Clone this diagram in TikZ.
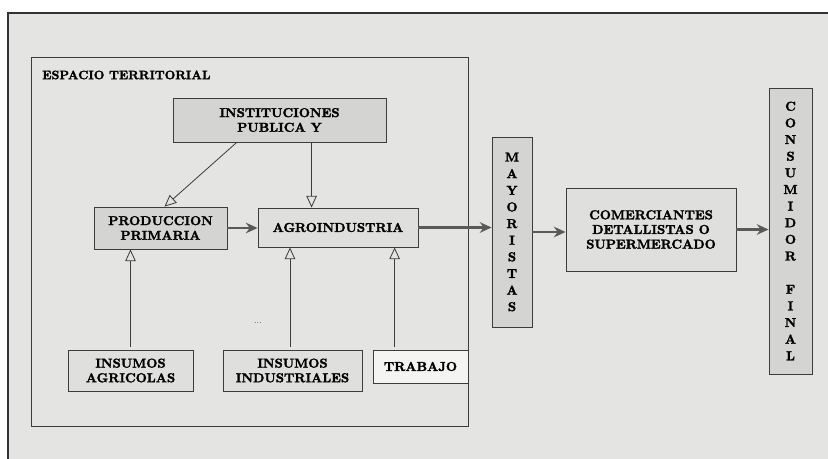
\documentclass[tikz,border=0pt]{standalone}
\usepackage{amsfonts,amssymb,amsmath}
\usepackage{fontspec}
\usepackage{xcolor}
\usepackage{tikz}
\usetikzlibrary{arrows.meta,calc}
\newfontfamily\negrita{lmroman10-bold.otf}[FakeBold=2]
\definecolor{fondo}{RGB}{228,228,226}
\definecolor{caja}{RGB}{212,212,210}
\definecolor{cajaclara}{RGB}{223,223,221}
\definecolor{linea}{RGB}{60,60,60}

\begin{document}
\begin{tikzpicture}[x=0.03cm,y=-0.03cm,=>stealth,
  box/.style={draw=linea,fill=caja,line width=0.7pt,inner sep=0pt,align=center,font=\fontsize{11}{12.5}\negrita},
  boxclaro/.style={box,fill=cajaclara},
  vbox/.style={box,font=\fontsize{11}{14.2}\negrita},
  flujo/.style={-{Stealth[length=10pt,width=9pt]},line width=2.3pt,draw=gray!70!black},
  aporte/.style={-{Triangle[open,length=10pt,width=9pt]},draw=linea,line width=0.7pt}]
\useasboundingbox(0,0)rectangle(828,459);
\fill[fondo](8,13)rectangle(828,459);
\draw[line width=1.4pt,black!80](8,459)--(8,13)--(828,13);
% espacio territorial
\node[draw=linea,line width=0.7pt,minimum width=13.11cm,minimum height=11.07cm,inner sep=0pt](terr)at(249.5,241.5){};
\node[anchor=west,inner sep=0pt,font=\fontsize{10.5}{12}\negrita](titulo)at(42,75){ESPACIO TERRITORIAL};
\node[box,minimum width=6.39cm,minimum height=1.32cm](inst)at(279.5,120){INSTITUCIONES\\PUBLICA Y};
\node[box,minimum width=3.99cm,minimum height=1.26cm](pp)at(160.5,228){PRODUCCION\\PRIMARIA};
\node[boxclaro,minimum width=4.8cm,minimum height=1.17cm](agro)at(338,227.5){AGROINDUSTRIA};
\node[boxclaro,minimum width=3.75cm,minimum height=1.23cm](ia)at(130.5,370.5){INSUMOS\\AGRICOLAS};
\node[boxclaro,minimum width=4.17cm,minimum height=1.23cm](ii)at(292.5,370.5){INSUMOS\\INDUSTRIALES};
\node[box,fill=white!60!fondo,minimum width=2.85cm,minimum height=0.99cm](trab)at(420.5,366.5){TRABAJO};
\node[inner sep=0pt,font=\scriptsize](puntos)at(258,323){...};
% cadena de comercializacion
\node[vbox,minimum width=1.2cm,minimum height=5.7cm](may)at(512,232){M\\A\\Y\\O\\R\\I\\S\\T\\A\\S};
\node[boxclaro,minimum width=5.1cm,minimum height=2.49cm](com)at(651,229.5){COMERCIANTES\\DETALLISTAS O\\SUPERMERCADO};
\node[vbox,minimum width=1.29cm,minimum height=8.58cm](cons)at(790.5,231){C\\O\\N\\S\\U\\M\\I\\D\\O\\R\\[14.2pt]F\\I\\N\\A\\L};
% flechas
\draw[aporte]($(inst.south west)!.3!(inst.south east)$)--($(pp.north west)!.53!(pp.north east)$);
\draw[aporte]($(inst.south west)!.65!(inst.south east)$)coordinate(t1)--(t1|-agro.north);
\draw[aporte]([yshift=2pt]ia.north)--(ia.north|-pp.south);
\draw[aporte]([yshift=2pt,xshift=-2.5*0.03cm]ii.north)coordinate(t2)--(t2|-agro.south);
\draw[aporte]([yshift=2pt]$(trab.north west)!.23!(trab.north east)$)coordinate(t3)--(t3|-agro.south);
\draw[flujo](pp.east)--(pp.east-|agro.west);
\draw[flujo](agro.east)--(agro.east-|may.west);
\draw[flujo](may.east)--(may.east-|com.west);
\draw[flujo](com.east)--(com.east-|cons.west);
\end{tikzpicture}
\end{document}
